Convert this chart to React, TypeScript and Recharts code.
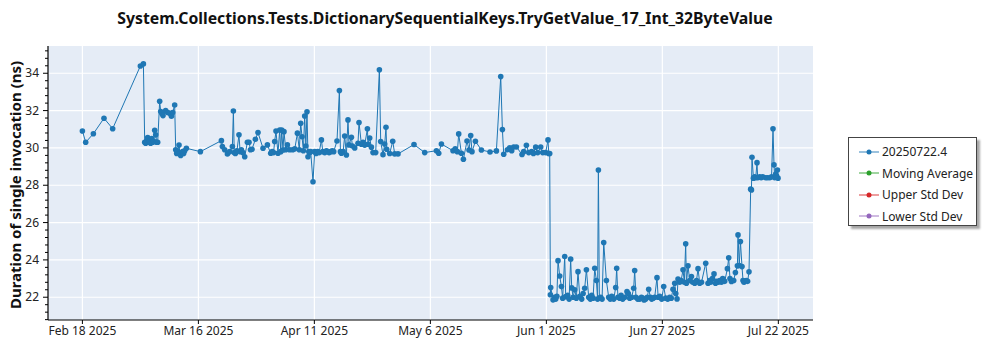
import React from 'react';
import { LineChart, Line, XAxis, YAxis, CartesianGrid, Legend } from 'recharts';

const TITLE = 'System.Collections.Tests.DictionarySequentialKeys.TryGetValue_17_Int_32ByteValue';
const Y_LABEL = 'Duration of single invocation (ns)';

// days since Feb 18 2025 (tick-aligned)
const days: number[] = [
  0, 0.73, 2.43, 4.78, 6.7, 12.83, 13.5, 13.79, 14.0, 14.2, 14.45, 14.7, 14.9, 15.1, 15.34, 15.55, 15.78, 16.0, 16.22, 16.45, 16.66,
  17.1, 17.33, 17.6, 17.84, 18.43, 18.88, 19.32, 19.7, 19.98, 20.42, 20.65, 20.87, 21.1, 21.38, 21.6, 21.75, 22.0, 22.19, 22.4, 22.64, 23.01, 26.11,
  30.76, 30.98, 31.49, 32.09, 32.6, 33.19, 33.41, 33.6, 33.86, 34.2, 34.65, 34.9, 35.18, 35.5, 35.92, 36.51, 36.87, 37.2, 37.53, 38.28, 38.86,
  39.97, 40.94, 41.67, 42.0, 42.3, 42.55, 42.84, 43.28, 43.66, 43.9, 44.1, 44.39, 44.61, 45.0, 45.36, 45.87, 46.54, 47.0, 47.58, 48.0, 48.31,
  48.6, 48.9, 49.19, 49.45, 49.7, 49.92, 50.1, 50.3, 50.52, 51.03, 51.4, 51.7, 52.07, 52.4, 52.89, 53.2, 53.62, 54.0, 54.28, 54.6, 54.95, 55.3,
  55.61, 56.34, 56.87, 57.1, 57.31, 57.7, 58.04, 58.42, 58.77, 59.0, 59.53, 59.75, 60.26, 60.99, 61.21, 61.74, 62.1, 62.47, 63.07, 63.2, 63.58,
  63.95, 64.31, 64.9, 65.72, 66.01, 66.52, 66.9, 67.18, 67.34, 68.0, 68.67, 69.11, 69.84, 73.38, 75.75, 78.34, 78.85, 79.44, 82.01, 82.5, 82.98,
  83.27, 83.87, 84.31, 85.11, 85.55, 85.93, 86.21, 86.97, 88.29, 90.2, 91.61, 92.57, 92.94, 93.23, 94.05, 94.56, 95.0, 95.44, 96.04, 97.28,
  97.66, 98.25, 98.76, 99.42, 99.8, 100.31, 100.75, 101.42, 101.86, 102.52, 103.03, 103.2, 103.41, 103.56, 103.63, 104.14, 104.5, 104.74,
  105.0, 105.25, 105.62, 106.0, 106.28, 106.73, 106.95, 107.39, 107.7, 108.05, 108.28, 108.6, 108.94, 109.3, 109.67, 110.05, 110.49, 110.8,
  111.15, 111.53, 112.04, 112.4, 112.7, 113.0, 113.37, 113.74, 114.0, 114.18, 114.4, 114.69, 115.0, 115.36, 115.95, 116.46, 116.8, 117.13,
  117.57, 118.01, 118.23, 118.5, 118.9, 119.2, 119.56, 120.0, 120.51, 120.8, 121.11, 121.55, 121.99, 122.21, 122.5, 122.88, 123.32, 123.7,
  123.98, 124.3, 124.65, 125.0, 125.31, 125.7, 125.98, 126.3, 126.64, 127.15, 127.4, 127.75, 128.19, 128.63, 129.08, 129.52, 129.96, 130.3,
  130.69, 131.07, 131.3, 131.58, 131.8, 132.17, 132.5, 132.91, 133.2, 133.5, 133.66, 134.01, 134.39, 134.77, 135.05, 135.5, 135.9, 136.23,
  136.6, 137.0, 137.93, 138.44, 138.8, 139.04, 139.4, 139.77, 140.1, 140.37, 140.7, 141.03, 141.4, 141.69, 142.13, 142.73, 143.02, 143.3,
  143.62, 144.12, 144.5, 144.94, 145.08, 145.35, 145.61, 145.96, 146.18, 146.4, 146.56, 146.93, 147.2, 147.51, 147.88, 148.05, 148.17,
  148.49, 148.77, 149.0, 149.28, 149.43, 149.88, 150.2, 150.54, 151.2, 151.6, 152.09, 152.5, 152.82, 153.04, 153.2, 153.42, 153.6, 153.8, 153.93,
];

const durations: number[] = [
  30.91, 30.3, 30.76, 31.59, 31.03, 34.39, 34.5, 30.3, 30.25, 30.35, 30.55, 30.3, 30.4, 30.25, 30.5, 30.3, 30.35, 30.95, 30.7, 30.3, 30.3,
  32.5, 31.95, 31.85, 31.73, 32.0, 31.9, 31.86, 31.7, 31.9, 32.3, 29.9, 29.7, 29.8, 30.15, 29.7, 29.6, 29.75, 29.8, 29.7, 29.85, 29.98, 29.8,
  30.39, 30.07, 29.9, 29.68, 29.8, 30.07, 31.98, 29.75, 29.7, 29.85, 30.7, 29.8, 29.9, 29.75, 29.53, 30.3, 30.3, 29.9, 29.93, 30.46, 30.82,
  29.98, 30.16, 29.71, 29.8, 29.75, 30.34, 30.9, 29.71, 30.96, 29.8, 30.96, 29.89, 30.87, 29.9, 30.16, 29.9, 29.9, 29.95, 30.79, 29.9, 31.32,
  30.6, 29.85, 31.71, 30.1, 31.94, 29.53, 29.8, 29.75, 29.8, 28.19, 29.8, 29.7, 29.8, 29.75, 30.43, 29.8, 29.75, 29.85, 29.8, 29.75, 29.8, 29.85,
  29.8, 30.37, 33.07, 29.8, 29.71, 29.8, 30.64, 29.62, 31.5, 30.16, 30.57, 30.1, 30.0, 30.25, 31.36, 30.2, 30.3, 30.15, 31.03, 30.2, 30.53,
  30.04, 29.75, 29.75, 34.19, 30.34, 29.64, 30.21, 31.11, 29.93, 29.7, 30.36, 29.68, 29.68, 30.18, 29.75, 29.85, 29.71, 30.21, 29.85, 29.95, 29.8,
  30.75, 29.71, 29.39, 30.37, 29.89, 30.66, 29.8, 30.36, 29.89, 29.78, 29.84, 33.82, 30.98, 29.66, 29.9, 30.0, 29.85, 30.05, 30.05, 29.65,
  29.8, 30.14, 29.75, 29.8, 29.7, 30.04, 29.75, 30.05, 29.75, 29.75, 30.43, 29.7, 29.7, 22.13, 22.52, 21.86, 22.0, 21.9,
  22.05, 23.96, 23.14, 22.57, 21.95, 24.18, 22.03, 22.1, 21.9, 24.04, 22.5, 22.0, 22.4, 21.95, 23.37, 22.05, 21.9, 22.2,
  22.48, 23.47, 22.0, 21.9, 22.1, 21.95, 23.55, 22.89, 21.9, 28.82, 21.95, 22.0, 21.9, 24.93, 22.89, 22.0, 21.9, 22.05,
  21.9, 22.52, 23.55, 22.0, 21.95, 22.1, 21.9, 22.0, 22.3, 22.2, 21.95, 22.0, 22.48, 23.43, 22.0, 21.9, 21.9, 22.0,
  21.95, 21.85, 21.9, 22.0, 22.43, 22.0, 21.9, 21.95, 22.0, 23.05, 22.0, 22.05, 21.9, 22.57, 21.95, 21.9, 22.0, 21.95,
  22.43, 22.75, 22.2, 21.91, 22.97, 22.8, 22.9, 23.47, 22.8, 24.86, 22.75, 23.68, 22.9, 23.11, 22.8, 22.75, 22.9, 23.53,
  22.75, 22.8, 23.82, 22.75, 22.9, 22.8, 23.0, 23.25, 22.75, 22.85, 22.8, 22.9, 22.8, 23.0, 22.85, 23.53, 24.11, 23.0,
  22.84, 22.9, 23.32, 23.68, 25.34, 23.7, 24.98, 23.64, 22.9, 22.8, 22.85, 22.9, 22.85, 23.36, 27.79, 27.75, 29.5,
  28.38, 28.45, 28.4, 29.21, 28.4, 28.45, 28.4, 28.45, 28.4, 28.4, 28.4, 28.45, 31.03, 29.09, 28.4, 28.6, 28.5, 28.82, 28.38,
];

const xTickValues = [0, 25.67, 51.33, 77, 102.67, 128.33, 154];
const xTickLabels = ['Feb 18 2025', 'Mar 16 2025', 'Apr 11 2025', 'May 6 2025', 'Jun 1 2025', 'Jun 27 2025', 'Jul 22 2025'];
const xDomain = [-7.61, 161.67];

const yMajorTicks = [22, 24, 26, 28, 30, 32, 34];
const yAllTicks = [20.8, 21.2, 21.6, 22, 22.4, 22.8, 23.2, 23.6, 24, 24.4, 24.8, 25.2, 25.6, 26, 26.4, 26.8, 27.2, 27.6, 28, 28.4, 28.8,
  29.2, 29.6, 30, 30.4, 30.8, 31.2, 31.6, 32, 32.4, 32.8, 33.2, 33.6, 34, 34.4, 34.8, 35.2];
const yDomain = [20.78, 35.46];

const seriesNames = ['20250722.4', 'Moving Average', 'Upper Std Dev', 'Lower Std Dev'];
const seriesColors = ['#1f77b4', '#2ca02c', '#d62728', '#9467bd'];

const data = days.map((d, i) => ({ day: d, main: durations[i] }));

const FONT = '"Noto Sans", "Open Sans", sans-serif';

const isMajor = (v: number) => yMajorTicks.some((m) => Math.abs(m - v) < 1e-6);

const YTick = (props: any) => {
  const { x, y, payload } = props;
  const lineX = x + 8;
  const major = isMajor(payload.value);
  return (
    <g>
      <line x1={lineX} x2={lineX - (major ? 5 : 3)} y1={y} y2={y} stroke="#000" strokeWidth={1} />
      {major && (
        <text x={x - 1} y={y} dy={4} textAnchor="end" fontSize={12} fill="#222" fontFamily={FONT}>
          {payload.value}
        </text>
      )}
    </g>
  );
};

const LegendBox = (props: any) => {
  const payload = ([...(props.payload || [])] as any[]).sort(
    (a, b) => seriesNames.indexOf(a.value) - seriesNames.indexOf(b.value)
  );
  return (
    <div
      style={{
        position: 'absolute',
        left: 848,
        top: 137,
        width: 129,
        height: 89,
        border: '1px solid #444',
        background: '#fff',
        boxShadow: '3px 3px 2px rgba(0,0,0,0.35)',
        fontFamily: FONT,
        fontSize: 12,
        color: '#222',
        boxSizing: 'border-box',
        paddingTop: 3,
      }}
    >
      {payload.map((p: any, i: number) => (
        <div key={i} style={{ display: 'flex', alignItems: 'center', height: 21.5 }}>
          <svg width={34} height={10} style={{ marginLeft: 8 }}>
            <line x1={2} x2={22} y1={5} y2={5} stroke={p.color} strokeOpacity={0.6} strokeWidth={1.5} />
            <circle cx={12} cy={5} r={2.5} fill={p.color} />
          </svg>
          <span style={{ marginLeft: -9 }}>{p.value}</span>
        </div>
      ))}
    </div>
  );
};

export default function App() {
  return (
    <div style={{ position: 'absolute', left: 0, top: 0, width: 1000, height: 350, background: '#fff' }}>
      <div
        style={{
          position: 'absolute',
          left: 0,
          width: 890,
          top: 7,
          textAlign: 'center',
          fontFamily: FONT,
          fontWeight: 700,
          fontSize: 15.8,
          color: '#111',
          lineHeight: '22px',
        }}
      >
        {TITLE}
      </div>
      <div
        style={{
          position: 'absolute',
          left: 15,
          top: 185,
          transform: 'translate(-50%, -50%) rotate(-90deg)',
          whiteSpace: 'nowrap',
          fontFamily: FONT,
          fontWeight: 700,
          fontSize: 15,
          color: '#111',
        }}
      >
        {Y_LABEL}
      </div>
      <LineChart width={1000} height={350} data={data} margin={{ top: 46, right: 187, left: 0, bottom: 0 }}>
        <CartesianGrid
          fill="#E5ECF6"
          stroke="#ffffff"
          strokeWidth={1.2}
          horizontalValues={yMajorTicks}
          verticalValues={xTickValues}
        />
        <XAxis
          dataKey="day"
          type="number"
          domain={xDomain}
          allowDataOverflow
          ticks={xTickValues}
          tickFormatter={(v: number) => xTickLabels[xTickValues.indexOf(v)] ?? ''}
          height={30}
          tickSize={4}
          tickMargin={2}
          axisLine={{ stroke: '#000', strokeWidth: 1.2 }}
          tickLine={{ stroke: '#000' }}
          tick={{ fontSize: 12, fill: '#222', fontFamily: FONT }}
        />
        <XAxis xAxisId="top" orientation="top" type="number" domain={xDomain} height={0} tick={false} tickLine={false} axisLine={{ stroke: '#000', strokeWidth: 1.2 }} />
        <YAxis
          type="number"
          domain={yDomain}
          allowDataOverflow
          ticks={yAllTicks}
          interval={0}
          width={48}
          tickSize={5}
          tickMargin={3}
          tickLine={false}
          axisLine={{ stroke: '#000', strokeWidth: 1.2 }}
          tick={<YTick />}
        />
        <YAxis yAxisId="right" orientation="right" type="number" domain={yDomain} width={0} tick={false} tickLine={false} axisLine={{ stroke: '#000', strokeWidth: 1.2 }} />
        <Line
          dataKey="main"
          name={seriesNames[0]}
          stroke={seriesColors[0]}
          strokeWidth={1}
          dot={{ r: 2.8, fill: seriesColors[0], stroke: seriesColors[0], strokeWidth: 0 }}
          isAnimationActive={false}
        />
        <Line dataKey="movingAverage" name={seriesNames[1]} stroke={seriesColors[1]} dot={false} isAnimationActive={false} />
        <Line dataKey="upperStdDev" name={seriesNames[2]} stroke={seriesColors[2]} dot={false} isAnimationActive={false} />
        <Line dataKey="lowerStdDev" name={seriesNames[3]} stroke={seriesColors[3]} dot={false} isAnimationActive={false} />
        <Legend content={<LegendBox />} wrapperStyle={{ position: 'absolute', left: 0, top: 0, width: 0, height: 0 }} />
      </LineChart>
    </div>
  );
}
